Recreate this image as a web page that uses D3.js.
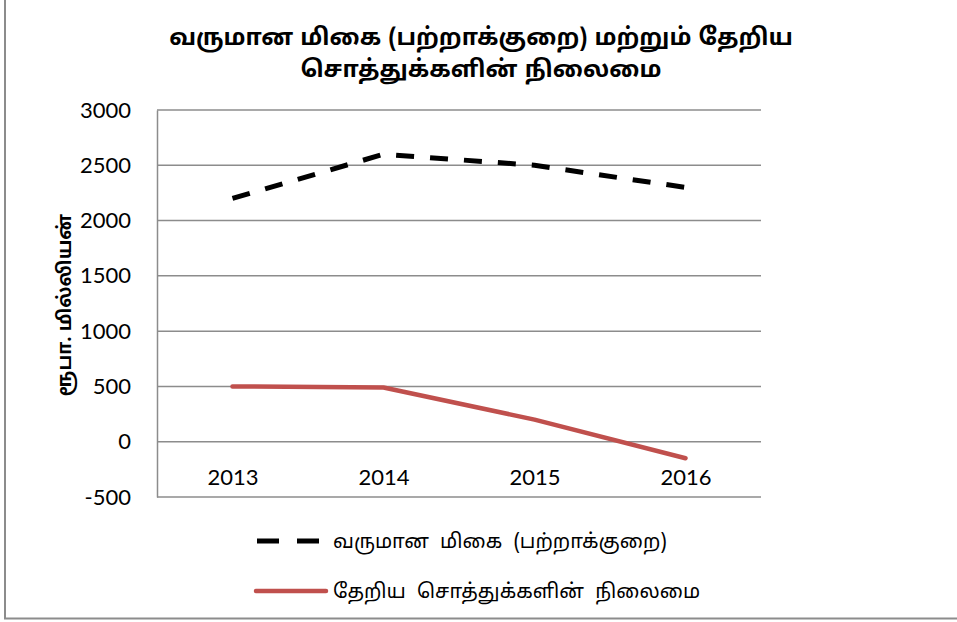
<!DOCTYPE html>
<html>
<head>
<meta charset="utf-8">
<script src="https://cdn.jsdelivr.net/npm/d3@7"></script>
<style>
  body { margin: 0; background: #fff; }
  .tamil { font-family: "Noto Sans Tamil", "Latha", "Lohit Tamil", "Noto Sans", sans-serif; }
  .grid line { stroke: #8c8c8c; stroke-width: 1.5; }
</style>
</head>
<body>
<div id="chart-container"><svg></svg></div>
<script>
const years = ["2013", "2014", "2015", "2016"];
const surplusDeficit = [2200, 2600, 2500, 2300];
const reserves = [500, 490, 200, -150];
const yTicks = [-500, 0, 500, 1000, 1500, 2000, 2500, 3000];

const titleLines = ["வருமான மிகை (பற்றாக்குறை) மற்றும் தேறிய", "சொத்துக்களின் நிலைமை"];
const yLabel = "ரூபா. மில்லியன்";
const seriesNames = ["வருமான மிகை (பற்றாக்குறை)", "தேறிய சொத்துக்களின் நிலைமை"];

const chartSize = {width: 957, height: 622};
const margin = {left: 157, right: 196, top: 110, bottom: 125};
const width = chartSize.width - margin.left - margin.right;
const height = chartSize.height - margin.top - margin.bottom;
const tickFont = "Lato, 'Open Sans', sans-serif";

const svg = d3.select("#chart-container svg")
  .attr("width", chartSize.width)
  .attr("height", chartSize.height);

// outer frame (only left and bottom edges visible)
svg.append("path")
  .attr("d", "M5,0 V618.5 H957")
  .attr("fill", "none")
  .attr("stroke", "#8c8c8c")
  .attr("stroke-width", 2);

const g = svg.append("g")
  .attr("transform", `translate(${margin.left},${margin.top})`);

const x = d3.scalePoint()
  .domain(years)
  .range([0, width])
  .padding(0.5);

const y = d3.scaleLinear()
  .domain([-500, 3000])
  .range([height, 0]);

// grid
g.append("g")
  .attr("class", "grid")
  .selectAll("line")
  .data(yTicks)
  .join("line")
  .attr("x1", 0)
  .attr("x2", width)
  .attr("y1", d => y(d))
  .attr("y2", d => y(d));

// y axis (plain hyphen for negatives)
const yAxis = d3.axisLeft(y)
  .tickValues(yTicks)
  .tickFormat(d => String(d))
  .tickSize(0)
  .tickPadding(26);
g.append("g")
  .attr("class", "y-axis")
  .call(yAxis)
  .attr("font-size", 22)
  .attr("font-family", tickFont)
  .call(a => a.selectAll("text").attr("fill", "#000"))
  .call(a => a.select(".domain").attr("stroke", "#8c8c8c").attr("stroke-width", 1.5));

// x labels sit under the zero line
const xAxis = d3.axisBottom(x).tickSize(0).tickPadding(28);
g.append("g")
  .attr("class", "x-axis")
  .attr("transform", `translate(0,${y(0)})`)
  .call(xAxis)
  .attr("font-size", 22)
  .attr("font-family", tickFont)
  .call(a => a.selectAll("text").attr("fill", "#000"))
  .call(a => a.select(".domain").remove());

// lines
const line = d3.line()
  .x((d, i) => x(years[i]))
  .y(d => y(d));

g.append("path")
  .attr("d", line(surplusDeficit))
  .attr("fill", "none")
  .attr("stroke", "#000")
  .attr("stroke-width", 5)
  .attr("stroke-dasharray", "18,16");

g.append("path")
  .attr("d", line(reserves))
  .attr("fill", "none")
  .attr("stroke", "#c0504d")
  .attr("stroke-width", 4.5)
  .attr("stroke-linecap", "round")
  .attr("stroke-linejoin", "round");

// title
svg.append("text")
  .attr("class", "tamil")
  .attr("text-anchor", "middle")
  .attr("font-weight", "bold")
  .attr("font-size", 23.5)
  .attr("word-spacing", 1)
  .selectAll("tspan")
  .data(titleLines)
  .join("tspan")
  .attr("x", 481)
  .attr("y", (d, i) => 45 + i * 32)
  .text(d => d);

// y axis title
svg.append("text")
  .attr("class", "tamil")
  .attr("transform", "translate(71,305) rotate(-90)")
  .attr("text-anchor", "middle")
  .attr("font-weight", "bold")
  .attr("font-size", 19)
  .text(yLabel);

// legend
const legend = svg.append("g");
const legendRows = legend.selectAll("g")
  .data(seriesNames)
  .join("g")
  .attr("transform", (d, i) => `translate(257,${541 + i * 50})`);

legendRows.append("line")
  .attr("x1", (d, i) => i === 0 ? 0 : -1)
  .attr("x2", (d, i) => i === 0 ? 64 : 69)
  .attr("stroke", (d, i) => i === 0 ? "#000" : "#c0504d")
  .attr("stroke-width", (d, i) => i === 0 ? 5 : 4.5)
  .attr("stroke-dasharray", (d, i) => i === 0 ? "22,18" : null)
  .attr("stroke-linecap", (d, i) => i === 0 ? "butt" : "round");

legendRows.append("text")
  .attr("class", "tamil")
  .attr("x", 76)
  .attr("dy", "0.35em")
  .attr("font-size", 20)
  .attr("word-spacing", 6)
  .text(d => d);
</script>
</body>
</html>
